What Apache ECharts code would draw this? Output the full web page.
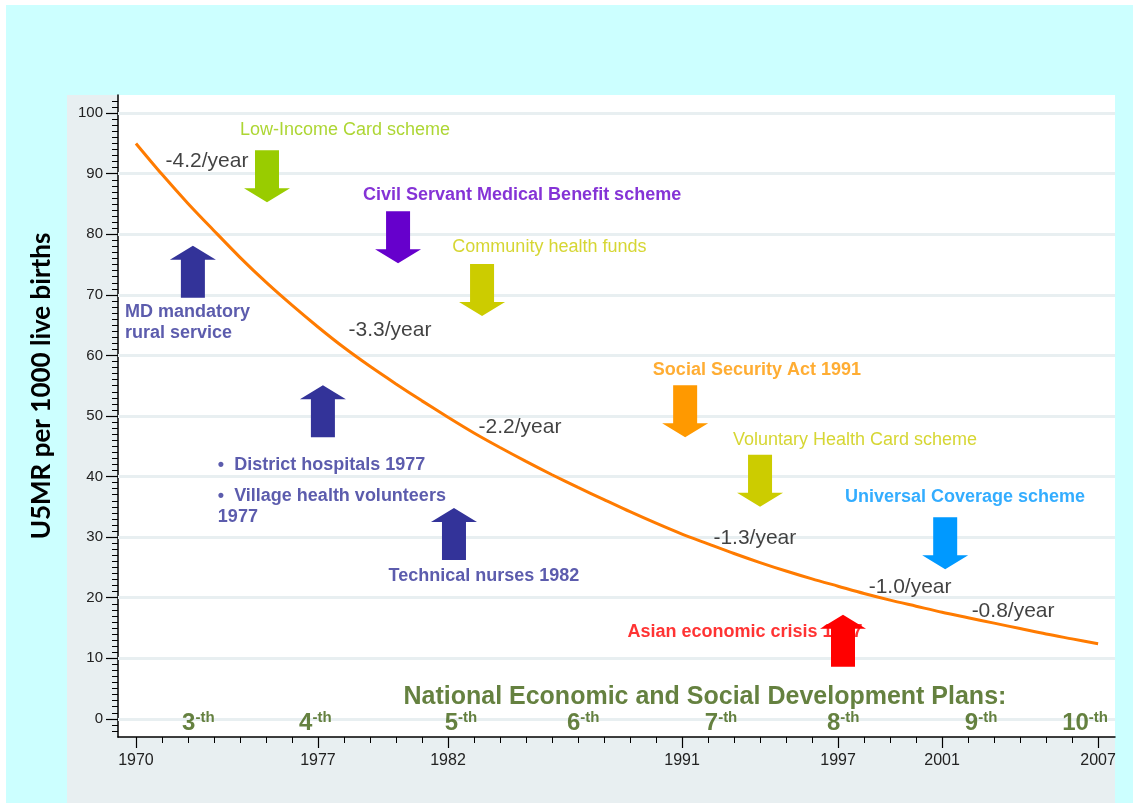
<!DOCTYPE html>
<html>
<head>
<meta charset="utf-8">
<title>U5MR Thailand</title>
<script src="https://cdn.jsdelivr.net/npm/echarts@6/dist/echarts.min.js"></script>
<style>
  html, body { margin: 0; padding: 0; background: #fff; }
  #chart { width: 1133px; height: 803px; }
</style>
</head>
<body>
<div id="chart"></div>
<script>
// under-five mortality
const years = [1970, 1971, 1972, 1973, 1974, 1975, 1976, 1977, 1978, 1979,
  1980, 1981, 1982, 1983, 1984, 1985, 1986, 1987, 1988, 1989,
  1990, 1991, 1992, 1993, 1994, 1995, 1996, 1997, 1998, 1999,
  2000, 2001, 2002, 2003, 2004, 2005, 2006, 2007];
const u5mr = [95.0, 89.9, 85.1, 80.6, 76.2, 72.1, 68.3, 64.7, 61.3, 58.2,
  55.3, 52.5, 49.8, 47.2, 44.8, 42.5, 40.3, 38.2, 36.2, 34.2,
  32.3, 30.5, 28.9, 27.3, 25.8, 24.4, 23.1, 21.9, 20.7, 19.6,
  18.6, 17.6, 16.7, 15.8, 14.9, 14.0, 13.2, 12.4];

const xTickLabels = [1970, 1977, 1982, 1991, 1997, 2001, 2007];
const yTickLabels = [0, 10, 20, 30, 40, 50, 60, 70, 80, 90, 100];
const xMinorTicks = years;
const yMinorTicks = [];
for (let v = -2; v <= 102; v++) yMinorTicks.push(v);

// national plans along the bottom
const planNames = ['3', '4', '5', '6', '7', '8', '9', '10'];
const planYears = [1972.4, 1976.9, 1982.5, 1987.2, 1992.5, 1997.2, 2002.5, 2006.5];
const planLevel = -0.8;

// slope labels
const rateTexts = ['-4.2/year', '-3.3/year', '-2.2/year', '-1.3/year', '-1.0/year', '-0.8/year'];
const rateYears = [1972.73, 1979.77, 1984.77, 1993.8, 1999.77, 2003.73];
const rateValues = [92.1, 64.2, 48.2, 29.9, 21.8, 17.8];

// policy notes
const noteTexts = [
  'Low-Income Card scheme',
  'Civil Servant Medical Benefit scheme',
  'Community health funds',
  'MD mandatory\nrural service',
  '\u2022  District hospitals 1977',
  '\u2022  Village health volunteers\n1977',
  'Technical nurses 1982',
  'Social Security Act 1991',
  'Voluntary Health Card scheme',
  'Universal Coverage scheme',
  'Asian economic crisis 1997',
  'National Economic and Social Development Plans:'
];
const noteYears = [1978.04, 1984.85, 1985.9, 1969.58, 1973.15, 1973.15, 1983.38, 1993.88, 1997.65, 2001.88, 1993.42, 1991.88];
const noteValues = [97.2, 86.5, 77.9, 65.5, 41.9, 35.1, 23.6, 57.6, 46.0, 36.6, 14.4, 3.6];
const noteKinds = ['lowIncome', 'civil', 'olive', 'navyLeft', 'navyLeft', 'navyLeft', 'navy', 'orange', 'olive', 'blue', 'red', 'plans'];

// arrows
const arrowYears = [1975.04, 1980.08, 1983.31, 1972.19, 1977.19, 1982.23, 1991.12, 1994.0, 2001.12, 1997.19];
const arrowValues = [89.6, 79.5, 70.8, 73.8, 50.8, 30.5, 50.8, 39.3, 29.0, 12.9];
const arrowDirs = ['down', 'down', 'down', 'up', 'up', 'up', 'down', 'down', 'down', 'up'];
const arrowKinds = ['lowIncome', 'civil', 'olive', 'navy', 'navy', 'navy', 'orange', 'olive', 'blue', 'red'];

const FONT = 'Liberation Sans, Arial, sans-serif';
const colors = {
  lowIncome: '#99cc00', civil: '#6600cc', olive: '#cccc00', navy: '#333399', navyLeft: '#333399',
  orange: '#ff9900', blue: '#0099ff', red: '#ff0000', plans: '#3f6110'
};
const noteStyles = {
  lowIncome: { fontWeight: 'normal', fontSize: 18, align: 'center' },
  civil: { fontWeight: 'bold', fontSize: 18, align: 'center' },
  olive: { fontWeight: 'normal', fontSize: 18, align: 'center' },
  navy: { fontWeight: 'bold', fontSize: 18, align: 'center' },
  navyLeft: { fontWeight: 'bold', fontSize: 18, align: 'left', lineHeight: 21 },
  orange: { fontWeight: 'bold', fontSize: 18, align: 'center' },
  blue: { fontWeight: 'bold', fontSize: 18, align: 'center' },
  red: { fontWeight: 'bold', fontSize: 18, align: 'center' },
  plans: { fontWeight: 'bold', fontSize: 25, align: 'center' }
};

const ARROW_UP = 'path://M23,0 L46,14 L35,14 L35,52 L11,52 L11,14 L0,14 Z';
const ARROW_DOWN = 'path://M11,0 L35,0 L35,38 L46,38 L23,52 L0,38 L11,38 Z';

const X_MIN = 1969.31, X_MAX = 2007.65;
const Y_MIN = -3, Y_MAX = 103;

const chart = echarts.init(document.getElementById('chart'), null, { renderer: 'canvas' });

const axisBlack = { lineStyle: { color: '#000', width: 1.5 } };

chart.setOption({
  animation: false,
  backgroundColor: '#ffffff',
  textStyle: { fontFamily: FONT },
  graphic: [
    { type: 'rect', z: -10, shape: { x: 6, y: 5, width: 1127, height: 798 }, style: { fill: '#ccffff' } },
    { type: 'rect', z: -9, shape: { x: 67, y: 95, width: 1048, height: 708 }, style: { fill: '#e8eff1' } },
    {
      type: 'text', z: 10, x: 42, y: 386, rotation: Math.PI / 2,
      style: {
        text: 'U5MR per 1000 live births', fill: '#000',
        font: 'bold 26px Lato, "Open Sans", sans-serif',
        textAlign: 'center', textVerticalAlign: 'middle'
      }
    }
  ],
  grid: {
    left: 118, right: 18, top: 95, bottom: 66, z: -1,
    show: true, backgroundColor: '#ffffff', borderWidth: 0,
    containLabel: false, outerBoundsMode: 'none'
  },
  xAxis: [
    {
      type: 'value', min: X_MIN, max: X_MAX, position: 'bottom',
      axisLine: { show: true, onZero: false, ...axisBlack },
      axisTick: { show: true, customValues: xMinorTicks, length: 6, lineStyle: { color: '#000', width: 1 } },
      axisLabel: {
        customValues: xTickLabels, formatter: v => String(v),
        fontSize: 16, color: '#222', margin: 16, fontFamily: FONT
      },
      splitLine: { show: false }
    },
    {
      type: 'value', min: X_MIN, max: X_MAX, position: 'bottom',
      axisLine: { show: false, onZero: false },
      axisTick: { show: true, customValues: xTickLabels, length: 11, lineStyle: { color: '#000', width: 1.2 } },
      axisLabel: { show: false },
      splitLine: { show: false }
    }
  ],
  yAxis: [
    {
      type: 'value', min: Y_MIN, max: Y_MAX, position: 'left',
      axisLine: { show: true, onZero: false, ...axisBlack },
      axisTick: { show: true, customValues: yMinorTicks, length: 6, lineStyle: { color: '#000', width: 1 } },
      axisLabel: {
        customValues: yTickLabels, formatter: v => String(v),
        fontSize: 15, color: '#222', margin: 15, fontFamily: FONT
      },
      splitLine: { show: false }
    },
    {
      type: 'value', min: Y_MIN, max: Y_MAX, position: 'left',
      axisLine: { show: false, onZero: false },
      axisTick: { show: true, customValues: yTickLabels, length: 12, lineStyle: { color: '#000', width: 1.2 } },
      axisLabel: { show: false },
      splitLine: { show: false }
    }
  ],
  series: [
    {
      // horizontal grid bands
      type: 'line', data: [], z: 1, silent: true,
      markLine: {
        z: 1, silent: true, symbol: ['none', 'none'], label: { show: false },
        lineStyle: { color: '#e8eff1', width: 3, type: 'solid' },
        data: yTickLabels.map(v => ({ yAxis: v }))
      }
    },
    {
      name: 'U5MR', type: 'line', z: 2,
      data: years.map((y, i) => [y, u5mr[i]]),
      showSymbol: false, smooth: 0.3,
      lineStyle: { color: '#ff7b00', width: 3 }
    },
    {
      type: 'scatter', z: 3, silent: true, symbolSize: 0,
      data: rateTexts.map((t, i) => ({ value: [rateYears[i], rateValues[i]], name: t })),
      label: {
        show: true, position: 'inside', formatter: p => p.name,
        fontSize: 21, color: '#111', fontFamily: FONT, align: 'center', verticalAlign: 'middle'
      }
    },
    {
      type: 'scatter', z: 3, silent: true, symbolSize: 0,
      data: noteTexts.map((t, i) => {
        const k = noteKinds[i];
        return {
          value: [noteYears[i], noteValues[i]], name: t,
          label: Object.assign({ color: colors[k] }, noteStyles[k])
        };
      }),
      label: {
        show: true, position: 'inside', formatter: p => p.name,
        fontFamily: FONT, verticalAlign: 'middle'
      }
    },
    {
      type: 'scatter', z: 3, silent: true, symbolSize: 0,
      data: planNames.map((n, i) => ({ value: [planYears[i], planLevel], name: n })),
      label: {
        show: true, position: 'inside', align: 'center', verticalAlign: 'middle',
        formatter: p => '{n|' + p.name + '}{s|-th}',
        rich: {
          n: { fontSize: 24, fontWeight: 'bold', color: colors.plans, fontFamily: FONT, lineHeight: 26 },
          s: { fontSize: 15, fontWeight: 'bold', color: colors.plans, fontFamily: FONT, verticalAlign: 'top', lineHeight: 26 }
        }
      }
    },
    {
      type: 'scatter', z: 4, silent: true,
      data: arrowYears.map((y, i) => ({
        value: [y, arrowValues[i]],
        symbol: arrowDirs[i] === 'up' ? ARROW_UP : ARROW_DOWN,
        itemStyle: { color: colors[arrowKinds[i]], opacity: 1 }
      })),
      symbolSize: [46, 52]
    }
  ]
});
</script>
</body>
</html>
